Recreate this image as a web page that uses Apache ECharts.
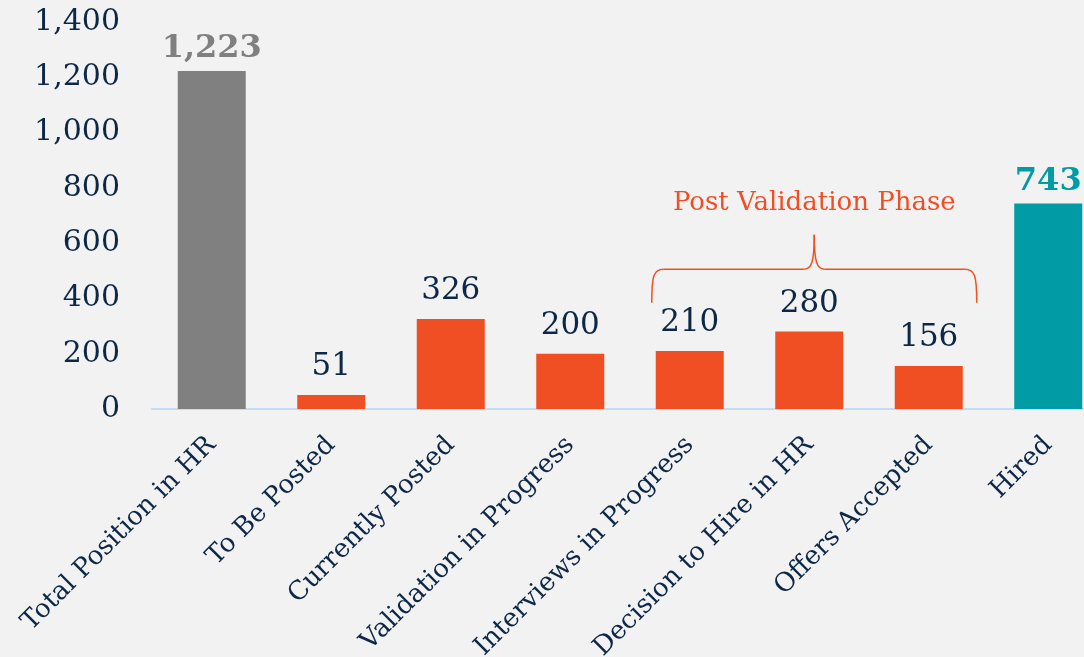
<!DOCTYPE html>
<html>
<head>
<meta charset="utf-8">
<script src="https://cdn.jsdelivr.net/npm/echarts@6/dist/echarts.min.js"></script>
<style>
  html, body { margin: 0; padding: 0; background: #f2f2f2; }
  #chart { width: 1084px; height: 657px; }
</style>
</head>
<body>
<div id="chart"></div>
<script>
const categories = [
  'Total Position in HR', 'To Be Posted', 'Currently Posted', 'Validation in Progress',
  'Interviews in Progress', 'Decision to Hire in HR', 'Offers Accepted', 'Hired'
];
const values = [1223, 51, 326, 200, 210, 280, 156, 743];
const yTicks = [0, 200, 400, 600, 800, 1000, 1200, 1400];
const bracketLabel = 'Post Validation Phase';
const bracketFrom = 'Interviews in Progress';
const bracketTo = 'Offers Accepted';

const NAVY = '#0d2847';
const ORANGE = '#f04e23';
const GRAY = '#808080';
const TEAL = '#009ba4';
const FONT = 'DejaVu Serif';

const chart = echarts.init(document.getElementById('chart'));

function barColor(i) {
  if (i === 0) return GRAY;
  if (i === categories.length - 1) return TEAL;
  return ORANGE;
}

const seriesData = values.map(function (v, i) {
  const d = { value: v, itemStyle: { color: barColor(i) } };
  if (i === 0 || i === categories.length - 1) {
    // first and last bars get the bold coloured label
    d.label = { color: barColor(i), fontWeight: 'bold', fontSize: 32, distance: 6 };
  }
  return d;
});

chart.setOption({
  backgroundColor: '#f2f2f2',
  animation: false,
  grid: { left: 152, right: -24, top: 22, bottom: 248, containLabel: false, outerBoundsMode: 'none' },
  xAxis: {
    type: 'category',
    data: categories,
    axisLine: { lineStyle: { color: '#c5dcf5', width: 2 } },
    axisTick: { show: false },
    axisLabel: {
      rotate: 45,
      interval: 0,
      margin: 32,
      color: NAVY,
      fontFamily: FONT,
      fontSize: 26
    }
  },
  yAxis: {
    type: 'value',
    min: yTicks[0],
    max: yTicks[yTicks.length - 1],
    interval: yTicks[1] - yTicks[0],
    splitLine: { show: false },
    axisLine: { show: false },
    axisTick: { show: false },
    axisLabel: {
      margin: 32,
      color: NAVY,
      fontFamily: FONT,
      fontSize: 30,
      formatter: function (v) { return v.toLocaleString('en-US'); }
    }
  },
  series: [{
    type: 'bar',
    barWidth: 68,
    data: seriesData,
    label: {
      show: true,
      position: 'top',
      distance: 12,
      color: NAVY,
      fontFamily: FONT,
      fontSize: 31,
      formatter: function (p) { return p.value.toLocaleString('en-US'); }
    }
  }]
});

// curly bracket above the post validation bars
const a = chart.convertToPixel({ xAxisIndex: 0, yAxisIndex: 0 }, [bracketFrom, 384]);
const b = chart.convertToPixel({ xAxisIndex: 0, yAxisIndex: 0 }, [bracketTo, 384]);
const yLine = chart.convertToPixel({ yAxisIndex: 0 }, 506);
const yPeak = chart.convertToPixel({ yAxisIndex: 0 }, 630);
const yText = chart.convertToPixel({ yAxisIndex: 0 }, 745);
const x1 = a[0] - 38, x2 = b[0] + 48, yEnd = a[1];
const xm = (x1 + x2) / 2;
const stroke = { stroke: ORANGE, lineWidth: 1.5, fill: null };

chart.setOption({
  graphic: [
    { type: 'bezierCurve', shape: { x1: x1, y1: yEnd, cpx1: x1, cpy1: yLine + 6, cpx2: x1 + 2, cpy2: yLine, x2: x1 + 12, y2: yLine }, style: stroke },
    { type: 'line', shape: { x1: x1 + 12, y1: yLine, x2: xm - 10, y2: yLine }, style: stroke },
    { type: 'bezierCurve', shape: { x1: xm - 10, y1: yLine, cpx1: xm - 3, cpy1: yLine, cpx2: xm, cpy2: yLine - 6, x2: xm, y2: yPeak }, style: stroke },
    { type: 'bezierCurve', shape: { x1: xm, y1: yPeak, cpx1: xm, cpy1: yLine - 6, cpx2: xm + 3, cpy2: yLine, x2: xm + 10, y2: yLine }, style: stroke },
    { type: 'line', shape: { x1: xm + 10, y1: yLine, x2: x2 - 12, y2: yLine }, style: stroke },
    { type: 'bezierCurve', shape: { x1: x2 - 12, y1: yLine, cpx1: x2 - 2, cpy1: yLine, cpx2: x2, cpy2: yLine + 6, x2: x2, y2: yEnd }, style: stroke },
    {
      type: 'text',
      x: xm,
      y: yText,
      style: {
        text: bracketLabel,
        fill: ORANGE,
        font: '26px "DejaVu Serif"',
        textAlign: 'center',
        textVerticalAlign: 'middle'
      }
    }
  ]
});
</script>
</body>
</html>
